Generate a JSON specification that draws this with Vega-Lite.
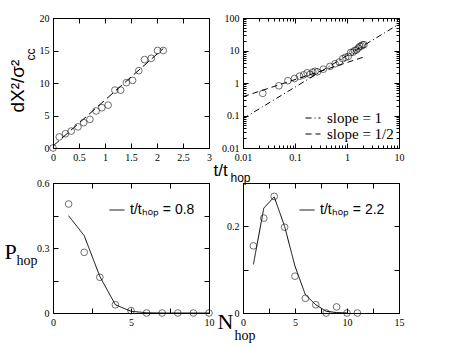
{
  "$schema": "https://vega.github.io/schema/vega-lite/v6.json",
  "background": "white",
  "padding": {"left": 3, "top": 12, "right": 0, "bottom": 0},
  "bounds": "flush",
  "columns": 2,
  "spacing": {"column": 34, "row": 35},
  "datasets": {
    "p1pts": [
      {"t": 0.0, "d": 0.0}, {"t": 0.12, "d": 1.7}, {"t": 0.24, "d": 2.2}, {"t": 0.35, "d": 2.6},
      {"t": 0.48, "d": 3.25}, {"t": 0.59, "d": 3.9}, {"t": 0.71, "d": 4.4}, {"t": 0.83, "d": 5.7},
      {"t": 0.94, "d": 6.2}, {"t": 1.06, "d": 6.6}, {"t": 1.19, "d": 8.9}, {"t": 1.30, "d": 8.9},
      {"t": 1.41, "d": 10.05}, {"t": 1.53, "d": 10.4}, {"t": 1.65, "d": 11.9}, {"t": 1.76, "d": 13.6},
      {"t": 1.89, "d": 13.8}, {"t": 2.01, "d": 15.0}, {"t": 2.12, "d": 15.0}
    ],
    "p1line": [{"t": 0.0, "d": 0.3}, {"t": 2.12, "d": 15.3}],
    "p2pts": [
      {"t": 0.024, "d": 0.48}, {"t": 0.049, "d": 0.82}, {"t": 0.073, "d": 1.18}, {"t": 0.098, "d": 1.38},
      {"t": 0.122, "d": 1.62}, {"t": 0.147, "d": 1.78}, {"t": 0.171, "d": 2.05}, {"t": 0.195, "d": 1.85},
      {"t": 0.22, "d": 2.15}, {"t": 0.244, "d": 2.3}, {"t": 0.27, "d": 2.2}, {"t": 0.35, "d": 2.65},
      {"t": 0.47, "d": 3.25}, {"t": 0.59, "d": 3.9}, {"t": 0.71, "d": 4.4}, {"t": 0.83, "d": 5.6},
      {"t": 0.94, "d": 6.2}, {"t": 1.06, "d": 6.6}, {"t": 1.18, "d": 8.7}, {"t": 1.30, "d": 8.9},
      {"t": 1.41, "d": 10.0}, {"t": 1.53, "d": 10.4}, {"t": 1.65, "d": 11.9}, {"t": 1.76, "d": 13.4},
      {"t": 1.88, "d": 13.8}, {"t": 2.0, "d": 14.9}, {"t": 2.12, "d": 15.1}
    ],
    "p2lines": [
      {"series": "slope = 1", "t": 0.01, "d": 0.08}, {"series": "slope = 1", "t": 10, "d": 65},
      {"series": "slope = 1/2", "t": 0.01, "d": 0.38}, {"series": "slope = 1/2", "t": 2.3, "d": 6.6}
    ],
    "p3pts": [
      {"n": 1, "p": 0.503}, {"n": 2, "p": 0.28}, {"n": 3, "p": 0.165}, {"n": 4, "p": 0.038},
      {"n": 5, "p": 0.011}, {"n": 6, "p": 0.0}, {"n": 7, "p": 0.0}, {"n": 8, "p": 0.0},
      {"n": 9, "p": 0.0}, {"n": 10, "p": 0.0}
    ],
    "p3line": [
      {"series": "t/tₕₒₚ = 0.8", "n": 1, "p": 0.449}, {"series": "t/tₕₒₚ = 0.8", "n": 2, "p": 0.357},
      {"series": "t/tₕₒₚ = 0.8", "n": 3, "p": 0.169}, {"series": "t/tₕₒₚ = 0.8", "n": 4, "p": 0.038},
      {"series": "t/tₕₒₚ = 0.8", "n": 5, "p": 0.008}, {"series": "t/tₕₒₚ = 0.8", "n": 6, "p": 0.001},
      {"series": "t/tₕₒₚ = 0.8", "n": 7, "p": 0.0}, {"series": "t/tₕₒₚ = 0.8", "n": 8, "p": 0.0},
      {"series": "t/tₕₒₚ = 0.8", "n": 9, "p": 0.0}, {"series": "t/tₕₒₚ = 0.8", "n": 10, "p": 0.0}
    ],
    "p4pts": [
      {"n": 1, "p": 0.155}, {"n": 2, "p": 0.219}, {"n": 3, "p": 0.269}, {"n": 4, "p": 0.198},
      {"n": 5, "p": 0.085}, {"n": 6, "p": 0.034}, {"n": 7, "p": 0.019}, {"n": 8, "p": 0.0},
      {"n": 9, "p": 0.014}, {"n": 10, "p": 0.0}, {"n": 11, "p": 0.0}
    ],
    "p4line": [
      {"series": "t/tₕₒₚ = 2.2", "n": 1, "p": 0.112}, {"series": "t/tₕₒₚ = 2.2", "n": 2, "p": 0.242},
      {"series": "t/tₕₒₚ = 2.2", "n": 3, "p": 0.268}, {"series": "t/tₕₒₚ = 2.2", "n": 4, "p": 0.2},
      {"series": "t/tₕₒₚ = 2.2", "n": 5, "p": 0.108}, {"series": "t/tₕₒₚ = 2.2", "n": 6, "p": 0.042},
      {"series": "t/tₕₒₚ = 2.2", "n": 7, "p": 0.019}, {"series": "t/tₕₒₚ = 2.2", "n": 8, "p": 0.004},
      {"series": "t/tₕₒₚ = 2.2", "n": 9, "p": 0.001}, {"series": "t/tₕₒₚ = 2.2", "n": 10, "p": 0.0}
    ]
  },
  "concat": [
    {
      "width": 156, "height": 130,
      "layer": [
        {
          "data": {"name": "p1pts"},
          "mark": {"type": "point", "shape": "circle", "filled": false, "color": "black", "size": 45, "strokeWidth": 0.8},
          "encoding": {
            "x": {"field": "t", "type": "quantitative", "scale": {"domain": [0, 3], "nice": false, "zero": false},
              "axis": {"orient": "bottom", "values": [0, 0.5, 1, 1.5, 2, 2.5, 3], "format": "~r",
                "title": "t/t", "titleFont": "Liberation Sans", "titleFontSize": 17, "titleAlign": "left", "titleBaseline": "alphabetic", "titleAngle": 0, "titleX": 160, "titleY": 27}},
            "y": {"field": "d", "type": "quantitative", "scale": {"domain": [0, 20], "nice": false},
              "axis": {"orient": "left", "values": [0, 5, 10, 15, 20], "format": "~r",
                "title": "dX²/σ²", "titleFont": "Liberation Sans", "titleFontSize": 19, "titleAngle": 270, "titleAlign": "left", "titleBaseline": "alphabetic", "titleX": -30, "titleY": 94}}
          }
        },
        {
          "data": {"name": "p1line"},
          "mark": {"type": "line", "color": "black", "strokeWidth": 1, "strokeDash": [8, 4], "clip": true},
          "encoding": {
            "x": {"field": "t", "type": "quantitative", "axis": {"orient": "top", "values": [0, 0.5, 1, 1.5, 2, 2.5, 3], "labels": false, "title": null}},
            "y": {"field": "d", "type": "quantitative", "axis": {"orient": "right", "values": [0, 5, 10, 15, 20], "labels": false, "title": null}}
          }
        },
        {
          "data": {"name": "p1pts"},
          "mark": {"type": "point", "opacity": 0},
          "encoding": {
            "x": {"field": "t", "type": "quantitative", "axis": {"orient": "bottom", "ticks": false, "labels": false, "domain": false,
              "title": "hop", "titleFont": "Liberation Sans", "titleFontSize": 12, "titleAlign": "left", "titleBaseline": "alphabetic", "titleAngle": 0, "titleX": 177, "titleY": 33}},
            "y": {"field": "d", "type": "quantitative", "axis": {"orient": "left", "ticks": false, "labels": false, "domain": false,
              "title": "cc", "titleFont": "Liberation Sans", "titleFontSize": 12, "titleAngle": 270, "titleAlign": "left", "titleBaseline": "alphabetic", "titleX": -19, "titleY": 42}}
          }
        }
      ],
      "resolve": {"axis": {"x": "independent", "y": "independent"}}
    },
    {
      "width": 156, "height": 130,
      "layer": [
        {
          "data": {"name": "p2pts"},
          "mark": {"type": "point", "shape": "circle", "filled": false, "color": "black", "size": 45, "strokeWidth": 0.8},
          "encoding": {
            "x": {"field": "t", "type": "quantitative", "scale": {"type": "log", "domain": [0.01, 10], "nice": false},
              "axis": {"orient": "bottom", "values": [0.01, 0.1, 1, 10], "format": "~r", "title": null}},
            "y": {"field": "d", "type": "quantitative", "scale": {"type": "log", "domain": [0.01, 100], "nice": false},
              "axis": {"orient": "left", "values": [0.01, 0.1, 1, 10, 100], "format": "~r", "title": null}}
          }
        },
        {
          "data": {"name": "p2lines"},
          "mark": {"type": "line", "color": "black", "strokeWidth": 1, "clip": true},
          "encoding": {
            "x": {"field": "t", "type": "quantitative", "axis": {"orient": "top", "values": [0.01, 0.1, 1, 10], "labels": false, "title": null}},
            "y": {"field": "d", "type": "quantitative", "axis": {"orient": "right", "values": [0.01, 0.1, 1, 10, 100], "labels": false, "title": null}},
            "strokeDash": {"field": "series", "type": "nominal",
              "scale": {"domain": ["slope = 1", "slope = 1/2"], "range": [[6, 3, 1, 3], [6, 4]]},
              "legend": {"orient": "none", "legendX": 62, "legendY": 92, "title": null, "labelFont": "Liberation Serif", "labelFontSize": 15, "labelColor": "black",
                "symbolType": "stroke", "symbolSize": 225, "symbolStrokeWidth": 1, "rowPadding": -2, "labelOffset": 6, "padding": 0}}
          }
        },
        {
          "data": {"name": "p2pts"},
          "mark": {"type": "point", "opacity": 0},
          "encoding": {
            "x": {"field": "t", "type": "quantitative", "axis": {"orient": "bottom", "labels": false, "domain": false, "tickSize": -3, "title": null,
              "values": [0.02, 0.03, 0.04, 0.05, 0.06, 0.07, 0.08, 0.09, 0.2, 0.3, 0.4, 0.5, 0.6, 0.7, 0.8, 0.9, 2, 3, 4, 5, 6, 7, 8, 9]}},
            "y": {"field": "d", "type": "quantitative", "axis": {"orient": "left", "labels": false, "domain": false, "tickSize": -3, "title": null,
              "values": [0.02, 0.03, 0.04, 0.05, 0.06, 0.07, 0.08, 0.09, 0.2, 0.3, 0.4, 0.5, 0.6, 0.7, 0.8, 0.9, 2, 3, 4, 5, 6, 7, 8, 9, 20, 30, 40, 50, 60, 70, 80, 90]}}
          }
        },
        {
          "data": {"name": "p2pts"},
          "mark": {"type": "point", "opacity": 0},
          "encoding": {
            "x": {"field": "t", "type": "quantitative", "axis": {"orient": "top", "labels": false, "domain": false, "tickSize": -3, "title": null,
              "values": [0.02, 0.03, 0.04, 0.05, 0.06, 0.07, 0.08, 0.09, 0.2, 0.3, 0.4, 0.5, 0.6, 0.7, 0.8, 0.9, 2, 3, 4, 5, 6, 7, 8, 9]}},
            "y": {"field": "d", "type": "quantitative", "axis": {"orient": "right", "labels": false, "domain": false, "tickSize": -3, "title": null,
              "values": [0.02, 0.03, 0.04, 0.05, 0.06, 0.07, 0.08, 0.09, 0.2, 0.3, 0.4, 0.5, 0.6, 0.7, 0.8, 0.9, 2, 3, 4, 5, 6, 7, 8, 9, 20, 30, 40, 50, 60, 70, 80, 90]}}
          }
        }
      ],
      "resolve": {"axis": {"x": "independent", "y": "independent"}}
    },
    {
      "width": 156, "height": 130,
      "layer": [
        {
          "data": {"name": "p3pts"},
          "mark": {"type": "point", "shape": "circle", "filled": false, "color": "black", "size": 45, "strokeWidth": 0.8},
          "encoding": {
            "x": {"field": "n", "type": "quantitative", "scale": {"domain": [0, 10], "nice": false},
              "axis": {"orient": "bottom", "values": [0, 2.5, 5, 7.5, 10], "format": "~r", "labelExpr": "datum.value % 5 === 0 ? datum.label : ''",
                "title": "N", "titleFont": "Liberation Serif", "titleFontSize": 22, "titleAlign": "left", "titleBaseline": "alphabetic", "titleAngle": 0, "titleX": 164, "titleY": 15}},
            "y": {"field": "p", "type": "quantitative", "scale": {"domain": [0, 0.6], "nice": false},
              "axis": {"orient": "left", "values": [0, 0.15, 0.3, 0.45, 0.6], "format": "~r", "labelExpr": "abs(datum.value * 10 / 3 - round(datum.value * 10 / 3)) < 0.000001 ? datum.label : ''",
                "title": "P", "titleFont": "Liberation Serif", "titleFontSize": 22, "titleAngle": 0, "titleAlign": "left", "titleBaseline": "alphabetic", "titleX": -49, "titleY": 75}}
          }
        },
        {
          "data": {"name": "p3line"},
          "mark": {"type": "line", "color": "black", "strokeWidth": 1},
          "encoding": {
            "x": {"field": "n", "type": "quantitative", "axis": {"orient": "top", "values": [0, 2.5, 5, 7.5, 10], "labels": false, "title": null}},
            "y": {"field": "p", "type": "quantitative", "axis": {"orient": "right", "values": [0, 0.15, 0.3, 0.45, 0.6], "labels": false, "title": null}},
            "strokeDash": {"field": "series", "type": "nominal", "scale": {"range": [[1, 0]]},
              "legend": {"orient": "none", "legendX": 56, "legendY": 19, "title": null, "labelFont": "Liberation Sans", "labelFontSize": 14, "labelColor": "black",
                "symbolType": "stroke", "symbolSize": 225, "symbolStrokeWidth": 1, "labelOffset": 5, "padding": 0,
                "encode": {"symbols": {"update": {"stroke": {"value": "#999999"}}}}}}
          }
        },
        {
          "data": {"name": "p3pts"},
          "mark": {"type": "point", "opacity": 0},
          "encoding": {
            "x": {"field": "n", "type": "quantitative", "axis": {"orient": "bottom", "ticks": false, "labels": false, "domain": false,
              "title": "hop", "titleFont": "Liberation Serif", "titleFontSize": 14, "titleAlign": "left", "titleBaseline": "alphabetic", "titleAngle": 0, "titleX": 181, "titleY": 26}},
            "y": {"field": "p", "type": "quantitative", "axis": {"orient": "left", "ticks": false, "labels": false, "domain": false,
              "title": "hop", "titleFont": "Liberation Serif", "titleFontSize": 14, "titleAngle": 0, "titleAlign": "left", "titleBaseline": "alphabetic", "titleX": -37, "titleY": 81}}
          }
        }
      ],
      "resolve": {"axis": {"x": "independent", "y": "independent"}}
    },
    {
      "width": 156, "height": 130,
      "layer": [
        {
          "data": {"name": "p4pts"},
          "mark": {"type": "point", "shape": "circle", "filled": false, "color": "black", "size": 45, "strokeWidth": 0.8},
          "encoding": {
            "x": {"field": "n", "type": "quantitative", "scale": {"domain": [0, 15], "nice": false},
              "axis": {"orient": "bottom", "values": [0, 2.5, 5, 7.5, 10, 12.5, 15], "format": "~r", "labelExpr": "datum.value % 5 === 0 ? datum.label : ''", "title": null}},
            "y": {"field": "p", "type": "quantitative", "scale": {"domain": [0, 0.3], "nice": false},
              "axis": {"orient": "left", "values": [0, 0.1, 0.2, 0.3], "format": "~r", "labelExpr": "datum.value === 0 || abs(datum.value - 0.2) < 0.000001 ? datum.label : ''", "title": null}}
          }
        },
        {
          "data": {"name": "p4line"},
          "mark": {"type": "line", "color": "black", "strokeWidth": 1},
          "encoding": {
            "x": {"field": "n", "type": "quantitative", "axis": {"orient": "top", "values": [0, 2.5, 5, 7.5, 10, 12.5, 15], "labels": false, "title": null}},
            "y": {"field": "p", "type": "quantitative", "axis": {"orient": "right", "values": [0, 0.1, 0.2, 0.3], "labels": false, "title": null}},
            "strokeDash": {"field": "series", "type": "nominal", "scale": {"range": [[1, 0]]},
              "legend": {"orient": "none", "legendX": 56, "legendY": 19, "title": null, "labelFont": "Liberation Sans", "labelFontSize": 14, "labelColor": "black",
                "symbolType": "stroke", "symbolSize": 225, "symbolStrokeWidth": 1, "labelOffset": 5, "padding": 0,
                "encode": {"symbols": {"update": {"stroke": {"value": "#999999"}}}}}}
          }
        }
      ],
      "resolve": {"axis": {"x": "independent", "y": "independent"}}
    }
  ],
  "resolve": {"scale": {"strokeDash": "independent"}, "legend": {"strokeDash": "independent"}},
  "config": {
    "view": {"stroke": "black", "strokeWidth": 1},
    "axis": {
      "grid": false, "labelFont": "Liberation Serif", "labelFontSize": 10, "labelColor": "black",
      "tickColor": "black", "domainColor": "black", "domainWidth": 1, "tickWidth": 1, "tickSize": -5,
      "labelPadding": 9, "labelFlush": false, "labelOverlap": false, "labelBound": false,
      "titleColor": "black", "titleFontWeight": "normal"
    },
    "legend": {"labelColor": "black"}
  }
}
